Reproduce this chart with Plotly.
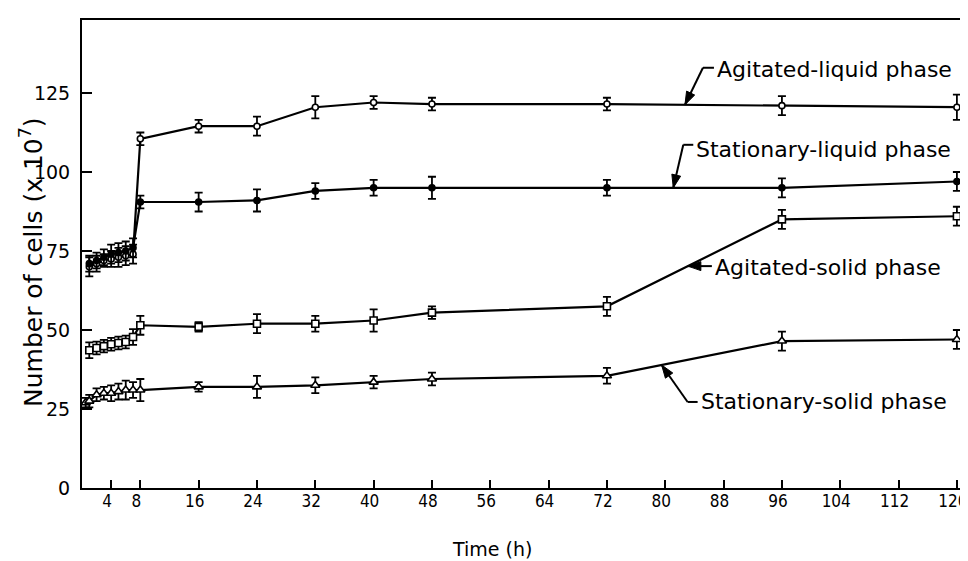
import numpy as np
import plotly.graph_objects as go

# ---- data ----
t_al = [1, 2, 3, 4, 5, 6, 7, 8, 16, 24, 32, 40, 48, 72, 96, 120]
agitated_liquid = [70, 71, 72, 72.5, 73, 73.5, 74, 110.5, 114.5, 114.5, 120.5, 122, 121.5, 121.5, 121, 120.5]
agitated_liquid_err = [3, 2.5, 2, 2.5, 3, 3, 3, 2, 2, 3, 3.5, 2, 2, 2, 3, 4]

t_sl = [1, 2, 3, 4, 5, 6, 7, 8, 16, 24, 32, 40, 48, 72, 96, 120]
stationary_liquid = [71, 72, 73, 74, 74.5, 75, 76, 90.5, 90.5, 91, 94, 95, 95, 95, 95, 97]
stationary_liquid_err = [2.5, 2.5, 2.5, 3, 3, 3, 3, 2, 3, 3.5, 2.5, 2.5, 3.5, 2.5, 3, 3]

t_as = [1, 2, 3, 4, 5, 6, 7, 8, 16, 24, 32, 40, 48, 72, 96, 120]
agitated_solid = [43.6, 44.3, 44.9, 45.5, 45.9, 46.2, 47.8, 51.5, 51, 52, 52, 53, 55.5, 57.5, 85, 86]
agitated_solid_err = [2.5, 2, 2, 2, 2, 2, 2.5, 3, 1.5, 3, 2.5, 3.5, 2, 3, 3, 3]

t_ss = [0.5, 1, 2, 3, 4, 5, 6, 7, 8, 16, 24, 32, 40, 48, 72, 96, 120]
stationary_solid = [27, 27.5, 29.5, 30, 30, 30.5, 31, 31, 31, 32, 32, 32.5, 33.5, 34.5, 35.5, 46.5, 47]
stationary_solid_err = [1.5, 2, 2, 2, 2.5, 2.5, 3, 2.5, 3.5, 1.5, 3.5, 2.5, 2, 2, 2.5, 3, 3]

x_ticks = [4, 8, 16, 24, 32, 40, 48, 56, 64, 72, 80, 88, 96, 104, 112, 120]
y_ticks = [0, 25, 50, 75, 100, 125]

labels = ["Agitated-liquid phase", "Stationary-liquid phase",
          "Agitated-solid phase", "Stationary-solid phase"]
x_title = "Time (h)"
y_title = "Number of cells (x 10<sup>7</sup>)"

# ---- layout constants (page body has an 8px margin) ----
OFF = 8
W, H = 968 - OFF, 561 - OFF
PAGE_L, PAGE_R, PAGE_T, PAGE_B = 82, 962, 20, 488      # plot area in page pixels
ML, MT = PAGE_L - OFF, PAGE_T - OFF
MR, MB = 968 - PAGE_R, 561 - PAGE_B
PW, PH = PAGE_R - PAGE_L, PAGE_B - PAGE_T
XR = [0, 120.7]
YR = [0, PH / ((PAGE_B - 93) / 125)]
pxx = PW / (XR[1] - XR[0])
pxy = PH / (YR[1] - YR[0])

FONT = "DejaVu Sans, Liberation Sans, sans-serif"
NARROW = "Liberation Sans Narrow, DejaVu Sans Condensed, Liberation Sans, sans-serif"

fig = go.Figure()

def add_series(t, v, e, symbol, fill, size):
    fig.add_trace(go.Scatter(
        x=t, y=v, mode="lines+markers",
        line=dict(color="black", width=2.2),
        marker=dict(symbol=symbol, size=size, color=fill,
                    line=dict(color="black", width=1.6)),
        error_y=dict(type="data", array=e, visible=True,
                     color="black", thickness=1.8, width=4),
        showlegend=False, cliponaxis=False))

add_series(t_al, agitated_liquid, agitated_liquid_err, "circle", "white", 6)
add_series(t_sl, stationary_liquid, stationary_liquid_err, "circle", "black", 6)
add_series(t_as, agitated_solid, agitated_solid_err, "square", "white", 7)
add_series(t_ss, stationary_solid, stationary_solid_err, "triangle-up", "white", 8)

def to_data(x, y, dx, dy):
    """offset data point (x, y) by pixels dx (right) and dy (down)."""
    return x + dx / pxx, y - dy / pxy

def label(text, tx, t, v, tail, elbow_len, text_dy):
    ty = float(np.interp(tx, t, v))
    dx, dy = tail
    ex, ey = to_data(tx, ty, dx, dy)
    fig.add_shape(type="line", x0=ex, y0=ey, x1=tx, y1=ty,
                  line=dict(color="black", width=2))
    L = np.hypot(dx, dy)
    ux, uy = -dx / L, -dy / L
    hl, hw = 13, 4.5
    bx, by = -ux * hl, -uy * hl
    p1 = to_data(tx, ty, bx + (-uy) * hw, by + ux * hw)
    p2 = to_data(tx, ty, bx - (-uy) * hw, by - ux * hw)
    fig.add_shape(type="path",
                  path=f"M {tx},{ty} L {p1[0]},{p1[1]} L {p2[0]},{p2[1]} Z",
                  fillcolor="black", line=dict(color="black", width=1))
    if elbow_len > 0:
        fig.add_shape(type="line", x0=ex, y0=ey, x1=ex + elbow_len / pxx, y1=ey,
                      line=dict(color="black", width=2))
        lx = ex + (elbow_len + 1) / pxx
    else:
        lx = ex + 1 / pxx
    fig.add_annotation(x=lx, y=ey - text_dy / pxy, text=text, showarrow=False,
                       xanchor="left", yanchor="middle",
                       font=dict(family=FONT, size=22, color="black"))

label(labels[0], 82.7, t_al, agitated_liquid, (18, -37), 11, 2)
label(labels[1], 81.1, t_sl, stationary_liquid, (10, -43), 10, 5)
label(labels[2], 83.1, t_as, agitated_solid, (24, 0), 0, 1)
label(labels[3], 79.5, t_ss, stationary_solid, (26, 37), 10, 0)

# axis titles (positions given in page pixels)
fig.add_annotation(xref="paper", yref="paper", x=(492 - PAGE_L) / PW, y=(PAGE_B - 549) / PH,
                   text=x_title, showarrow=False, xanchor="center", yanchor="middle",
                   font=dict(family=FONT, size=19, color="black"))
fig.add_annotation(xref="paper", yref="paper", x=(32 - PAGE_L) / PW, y=(PAGE_B - 262) / PH,
                   text=y_title, showarrow=False, textangle=-90,
                   xanchor="center", yanchor="middle",
                   font=dict(family=FONT, size=25, color="black"))

fig.update_layout(
    width=W, height=H,
    margin=dict(l=ML, r=MR, t=MT, b=MB, autoexpand=False),
    paper_bgcolor="white", plot_bgcolor="white",
    font=dict(family=FONT, color="black"),
    xaxis=dict(range=XR, tickvals=x_ticks, ticktext=[str(v) for v in x_ticks],
               ticks="inside", ticklen=8, tickwidth=1.8, tickcolor="black",
               showline=True, linecolor="black", linewidth=2, mirror=True,
               showgrid=False, zeroline=False, automargin=False,
               ticklabeloverflow="allow", ticklabelshift=-4, ticklabelstandoff=-3,
               tickfont=dict(family=NARROW, size=17)),
    yaxis=dict(range=YR, tickvals=y_ticks, ticktext=[str(v) for v in y_ticks],
               ticks="inside", ticklen=10, tickwidth=1.8, tickcolor="black",
               showline=True, linecolor="black", linewidth=2, mirror=True,
               showgrid=False, zeroline=False, automargin=False,
               ticklabelstandoff=6,
               tickfont=dict(family=FONT, size=19)),
)

fig.write_html("out.html")
